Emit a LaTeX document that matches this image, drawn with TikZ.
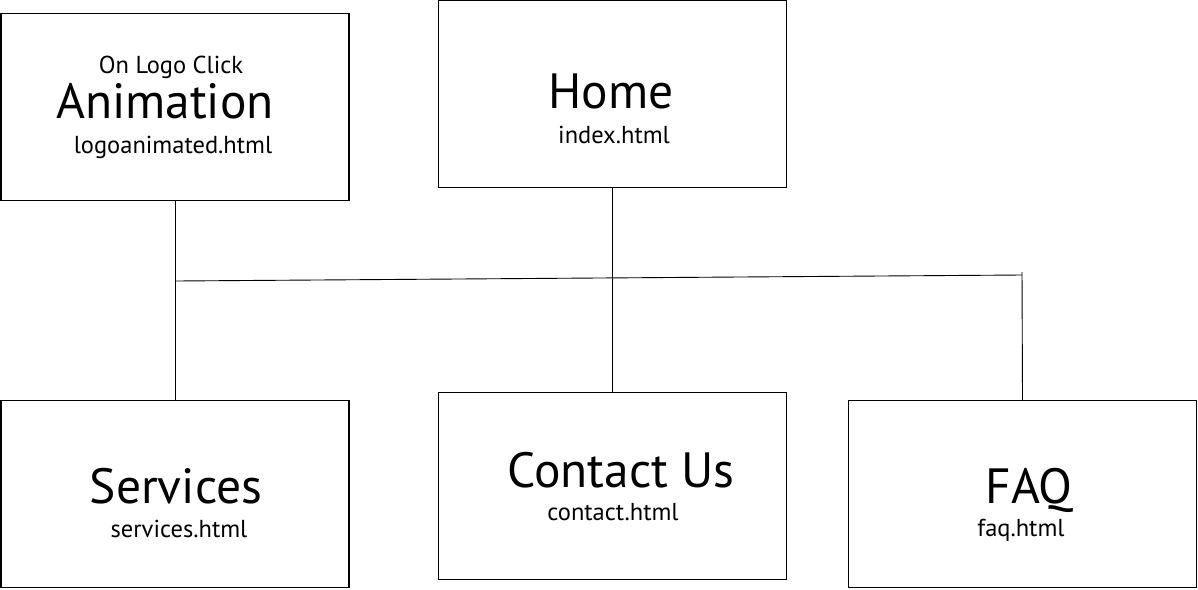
\documentclass[tikz,border=0pt]{standalone}
\usepackage{fontspec}
\setmainfont{PT Sans}
\usepackage{tikz}

\tikzset{
	page/.style={draw, line width=1.3pt, rectangle, minimum width=348pt, minimum height=187pt, inner sep=0pt},
	title/.style={anchor=base, inner sep=0pt, font=\fontsize{49.5}{52}\selectfont},
	file/.style={anchor=base, inner sep=0pt, font=\fontsize{24.5}{26}\selectfont},
	link/.style={line width=0.9pt}
}

\begin{document}
\begin{tikzpicture}[x=1pt, y=-1pt]
\useasboundingbox (0,0) rectangle (1198,589);

\foreach \n/\x/\y in {anim/175/107, home/612.5/94, serv/175/494, cont/612.5/486, faq/1022.5/494}{
	\node[page] (\n) at (\x,\y) {};
}

\node[file] (animC) at (171,73) {On Logo Click};
\node[title] (animT) at (165,118) {Animation};
\node[file] (animF) at (173,153) {logoanimated.html};

\node[title] (homeT) at (611,108) {Home};
\node[file] (homeF) at (614,143) {index.html};

\node[title] (servT) at (176,503) {Services};
\node[file] (servF) at (179,537) {services.html};

\node[title] (contT) at (621,487) {Contact Us};
\node[file] (contF) at (613,520) {contact.html};

\node[title] (faqT) at (1029,503) {FAQ};
\node[file] (faqF) at (1021,536) {faq.html};

\coordinate (jl) at (176,281);
\coordinate (jr) at (1022,275);
\coordinate (faqtop) at (1022,272);

\draw[link] (anim.south) -- (serv.north);
\draw[link] (home.south) -- (cont.north);
\draw[link] (jl) -- (jr);
\draw[link] (faqtop) -- (faq.north);

\end{tikzpicture}
\end{document}
